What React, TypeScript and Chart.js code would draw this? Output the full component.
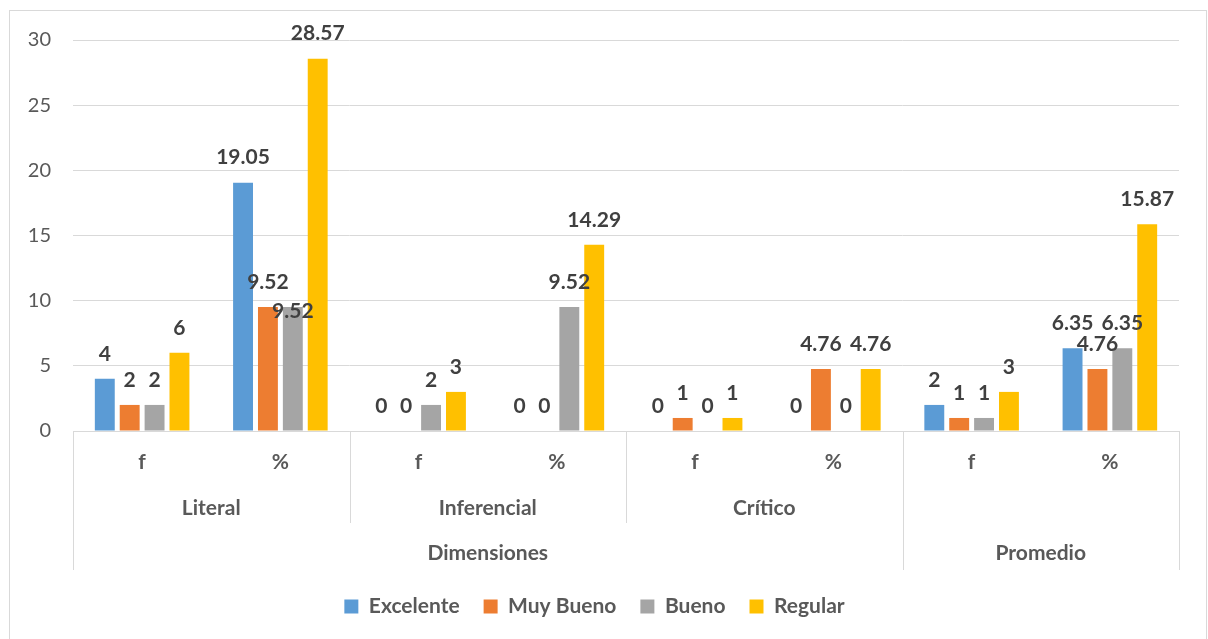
import React, { useEffect, useRef } from 'react';
import { Chart, registerables } from 'chart.js';

Chart.register(...registerables);

const categories = ['f', '%', 'f', '%', 'f', '%', 'f', '%'];
const subGroups = ['Literal', 'Literal', 'Inferencial', 'Inferencial', 'Crítico', 'Crítico', '', ''];
const topGroups = ['Dimensiones', 'Dimensiones', 'Dimensiones', 'Dimensiones', 'Dimensiones', 'Dimensiones', 'Promedio', 'Promedio'];
const seriesNames = ['Excelente', 'Muy Bueno', 'Bueno', 'Regular'];
const excelente = [4, 19.05, 0, 0, 0, 0, 2, 6.35];
const muyBueno = [2, 9.52, 0, 0, 1, 4.76, 1, 4.76];
const bueno = [2, 9.52, 2, 9.52, 0, 0, 1, 6.35];
const regular = [6, 28.57, 3, 14.29, 1, 4.76, 3, 15.87];
const seriesColors = ['#5B9BD5', '#ED7D31', '#A5A5A5', '#FFC000'];
const yMin = 0;
const yMax = 30;
const yStep = 5;

const FONT = 'Lato, "Open Sans", sans-serif';

function runs(arr: string[]) {
  const out: { label: string; start: number; end: number }[] = [];
  arr.forEach((l, i) => {
    const last = out[out.length - 1];
    if (last && last.label === l) last.end = i;
    else out.push({ label: l, start: i, end: i });
  });
  return out;
}

const framePlugin = {
  id: 'frame',
  beforeDraw(chart: any) {
    const ctx = chart.ctx;
    ctx.save();
    ctx.fillStyle = '#ffffff';
    ctx.fillRect(0, 0, chart.width, chart.height);
    ctx.strokeStyle = '#D9D9D9';
    ctx.lineWidth = 1;
    ctx.strokeRect(9.5, 10.5, 1197, 640);
    ctx.restore();
  },
};

const valueLabelPlugin = {
  id: 'valueLabels',
  afterDatasetsDraw(chart: any) {
    const ctx = chart.ctx;
    ctx.save();
    ctx.font = `bold 21px ${FONT}`;
    ctx.fillStyle = '#404040';
    ctx.textAlign = 'center';
    ctx.textBaseline = 'middle';
    const n = chart.data.labels.length;
    for (let i = 0; i < n; i++) {
      const placed: { x: number; y: number; w: number }[] = [];
      chart.data.datasets.forEach((ds: any, d: number) => {
        const el = chart.getDatasetMeta(d).data[i];
        if (!el) return;
        const v = ds.data[i];
        const text = String(v);
        const w = ctx.measureText(text).width;
        const x = el.x;
        let y = el.y - 25;
        for (const p of placed) {
          if (Math.abs(x - p.x) < (w + p.w) / 2 && Math.abs(y - p.y) < 19) {
            y += 29;
          }
        }
        placed.push({ x, y, w });
        ctx.fillText(text, x, y);
      });
    }
    ctx.restore();
  },
};

const multiAxisPlugin = {
  id: 'multiAxis',
  afterDraw(chart: any) {
    const ctx = chart.ctx;
    const xs = chart.scales.x;
    const top = chart.chartArea.bottom;
    const n = categories.length;
    const cw = (xs.right - xs.left) / n;
    const bx = (i: number) => Math.round(xs.left + cw * i) + 0.5;
    ctx.save();
    ctx.strokeStyle = '#D9D9D9';
    ctx.lineWidth = 1;
    const vline = (x: number, len: number) => {
      ctx.beginPath();
      ctx.moveTo(x, top);
      ctx.lineTo(x, top + len);
      ctx.stroke();
    };
    runs(subGroups).forEach((r) => {
      if (r.start > 0) vline(bx(r.start), 92);
    });
    runs(topGroups).forEach((r) => {
      vline(bx(r.start), 139);
    });
    vline(bx(n), 139);

    ctx.font = `bold 21px ${FONT}`;
    ctx.fillStyle = '#595959';
    ctx.textAlign = 'center';
    ctx.textBaseline = 'middle';
    categories.forEach((c, i) => {
      ctx.fillText(c, xs.getPixelForValue(i), top + 31);
    });
    runs(subGroups).forEach((r) => {
      if (!r.label) return;
      ctx.fillText(r.label, (xs.getPixelForValue(r.start) + xs.getPixelForValue(r.end)) / 2, top + 77);
    });
    runs(topGroups).forEach((r) => {
      ctx.fillText(r.label, (xs.getPixelForValue(r.start) + xs.getPixelForValue(r.end)) / 2, top + 122);
    });
    ctx.restore();
  },
};

export default function App() {
  const ref = useRef<HTMLCanvasElement | null>(null);
  useEffect(() => {
    if (!ref.current) return;
    const seriesData = [excelente, muyBueno, bueno, regular];
    const chart = new Chart(ref.current, {
      type: 'bar',
      data: {
        labels: categories,
        datasets: seriesNames.map((name, k) => ({
          label: name,
          data: seriesData[k],
          backgroundColor: seriesColors[k],
          borderWidth: 0,
          categoryPercentage: 0.72,
          barPercentage: 0.8,
        })),
      },
      options: {
        responsive: false,
        animation: false,
        layout: { padding: { left: 10, right: 29, top: 40, bottom: 12 } },
        scales: {
          x: {
            grid: { display: false },
            ticks: { display: false },
            border: { display: true, color: '#D9D9D9' },
            afterFit: (s: any) => {
              s.height = 141;
            },
          },
          y: {
            min: yMin,
            max: yMax,
            ticks: {
              stepSize: yStep,
              color: '#595959',
              font: { family: FONT, size: 20 },
              padding: 22,
            },
            grid: { color: '#D9D9D9', drawTicks: false },
            border: { display: false },
            afterFit: (s: any) => {
              s.width = 63;
            },
          },
        },
        plugins: {
          legend: {
            position: 'bottom',
            labels: {
              boxWidth: 14,
              boxHeight: 14,
              padding: 24,
              color: '#595959',
              font: { family: FONT, size: 21, weight: 'bold' },
            },
          },
          tooltip: { enabled: false },
        },
      },
      plugins: [framePlugin, valueLabelPlugin, multiAxisPlugin],
    } as any);
    return () => chart.destroy();
  }, []);
  return (
    <div style={{ position: 'fixed', left: 0, top: 0, width: 1208, height: 639 }}>
      <canvas ref={ref} width={1208} height={639} style={{ width: 1208, height: 639, display: 'block' }} />
    </div>
  );
}
